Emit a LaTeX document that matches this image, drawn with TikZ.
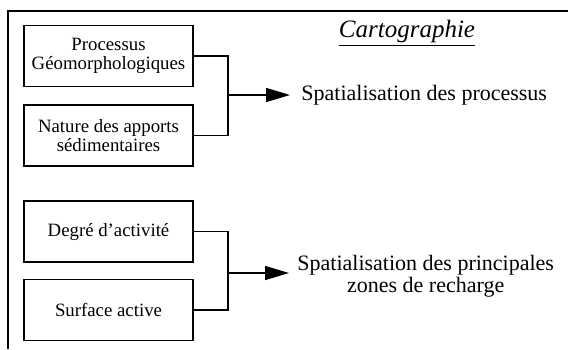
\documentclass[tikz,border=0pt]{standalone}
\usepackage{fontspec}
\setmainfont{Liberation Serif}
\usepackage{tikz}
\usetikzlibrary{arrows.meta}

\tikzset{
  boite/.style={draw, line width=0.8pt, minimum width=84.5pt, minimum height=30.5pt,
                align=center, font=\fontsize{9.4}{9.6}\selectfont, inner sep=1pt},
  resultat/.style={align=center, font=\fontsize{11}{11.2}\selectfont, inner ysep=0pt, inner xsep=5.5pt},
  fleche/.style={line width=0.8pt, -{Triangle[length=12pt,width=7pt]}},
  lien/.style={line width=0.8pt}
}

\begin{document}
\begin{tikzpicture}[x=0.5pt,y=-0.5pt]
      \useasboundingbox (0,0) rectangle (568,349);
      % cadre
      \draw[line width=0.9pt] (8,349) -- (8,11) -- (568,11);

      \node(titre) at (407,33) {\fontsize{12.5}{13}\selectfont\itshape\underline{Cartographie}};

      \node[boite](proc) at (108.5,56)  {Processus\\Géomorphologiques};
      \node[boite](nat)  at (108.5,135.5) {Nature des apports\\sédimentaires};
      \node[boite](deg)  at (108.5,231.5) {Degré d'activité};
      \node[boite](surf) at (108.5,310) {Surface active};

      \coordinate(j1) at (228,95);
      \coordinate(j2) at (228,273);

      \node[resultat, anchor=west](spat1) at (290,95) {Spatialisation des processus};
      \node[resultat, anchor=west, inner xsep=4pt](spat2) at (289,276) {Spatialisation des principales\\zones de recharge};

      \draw[lien] (proc.east) -| (j1) |- (nat.east);
      \draw[lien] (deg.east)  -| (j2) |- (surf.east);
      \draw[fleche] (j1) -- (spat1.west);
      \draw[fleche] (j2) -- (spat2.west |- j2);
    \end{tikzpicture}
\end{document}
